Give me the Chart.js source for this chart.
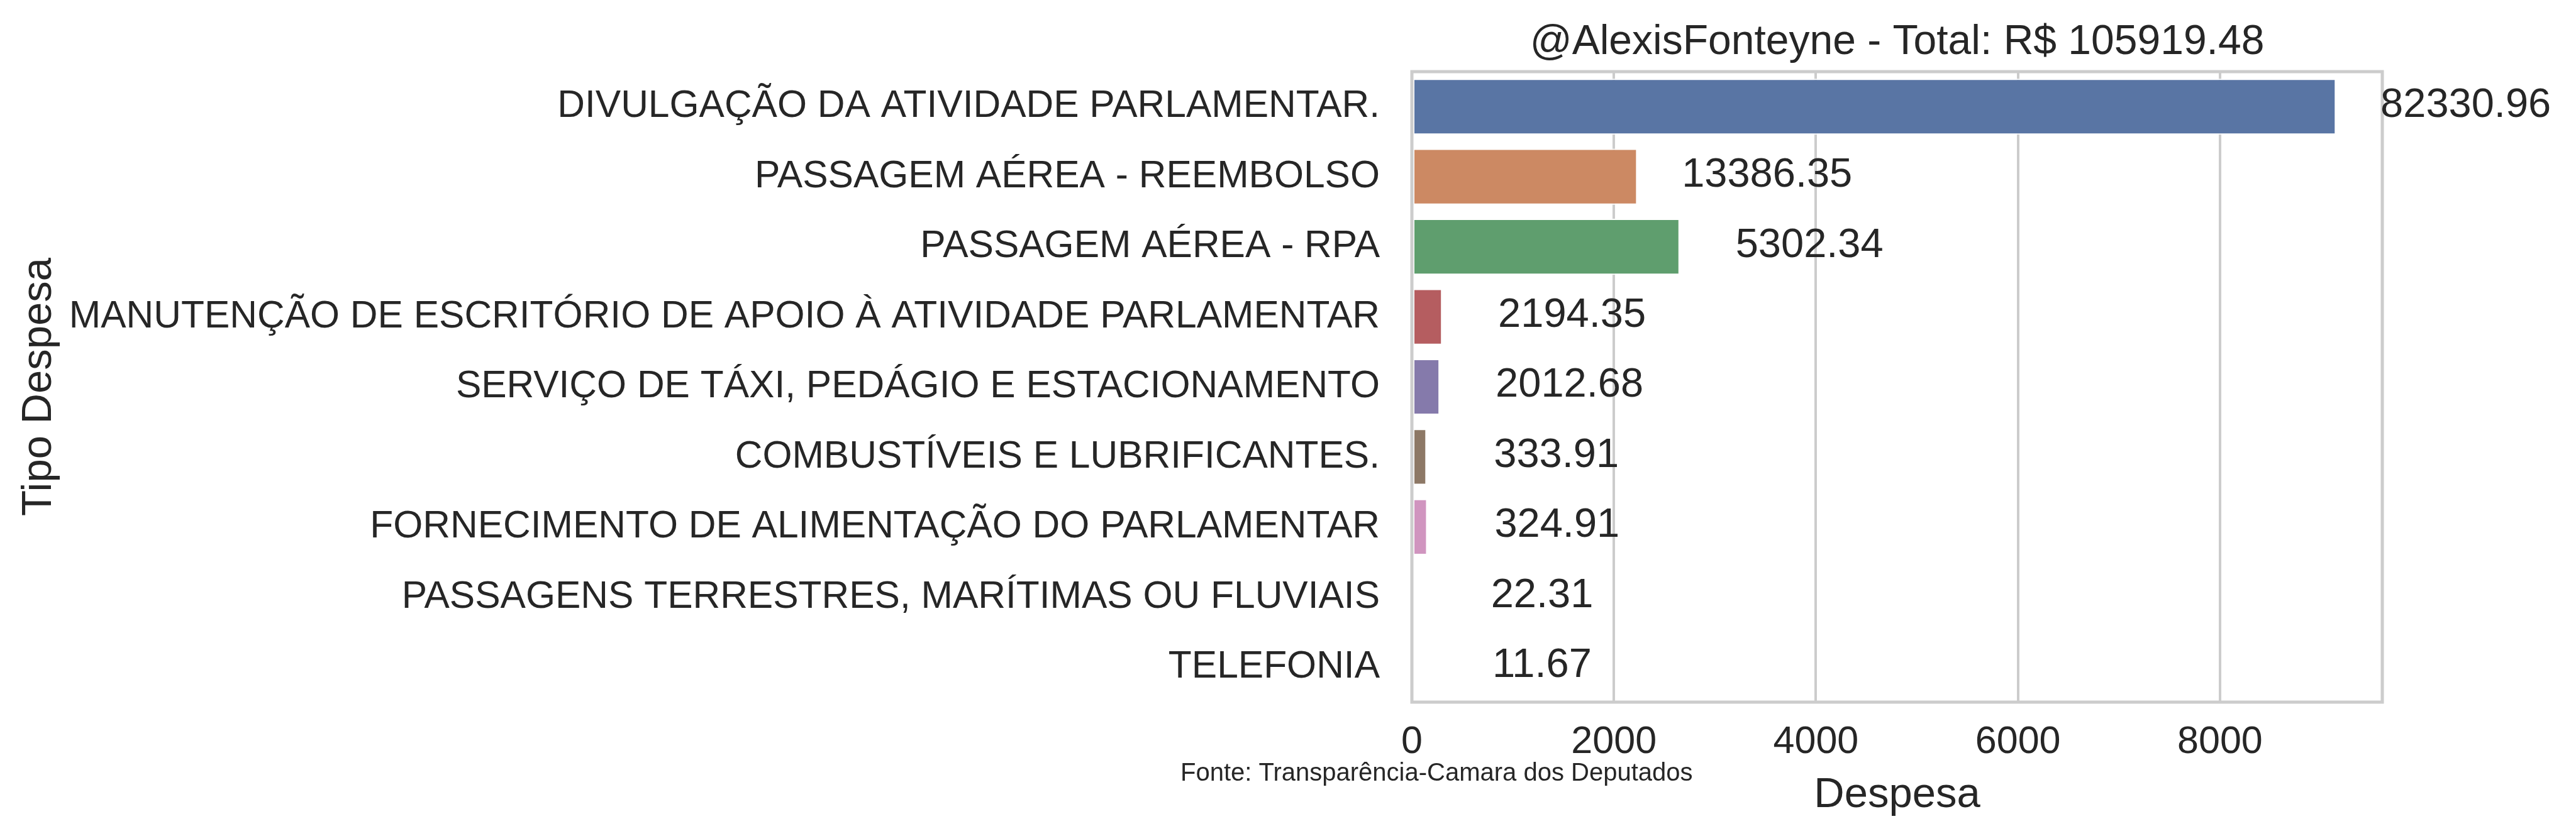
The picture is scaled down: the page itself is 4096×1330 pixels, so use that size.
<!DOCTYPE html>
<html>
<head>
<meta charset="utf-8">
<script src="https://cdn.jsdelivr.net/npm/chart.js@4.4.0/dist/chart.umd.min.js"></script>
<style>
  html, body { margin: 0; padding: 0; background: #ffffff; }
  #wrap { width: 4096px; height: 1330px; }
</style>
</head>
<body>
<div id="wrap"><canvas id="chart" width="4096" height="1330"></canvas></div>
<script>
// ── Data ───────────────────────────────────────────────
const CATEGORIES = [
  'DIVULGAÇÃO DA ATIVIDADE PARLAMENTAR.',
  'PASSAGEM AÉREA - REEMBOLSO',
  'PASSAGEM AÉREA - RPA',
  'MANUTENÇÃO DE ESCRITÓRIO DE APOIO À ATIVIDADE PARLAMENTAR',
  'SERVIÇO DE TÁXI, PEDÁGIO E ESTACIONAMENTO',
  'COMBUSTÍVEIS E LUBRIFICANTES.',
  'FORNECIMENTO DE ALIMENTAÇÃO DO PARLAMENTAR',
  'PASSAGENS TERRESTRES, MARÍTIMAS OU FLUVIAIS',
  'TELEFONIA'
];
// bar lengths (mean per expense) and the totals printed next to them
const BAR_VALUES = [9148, 2231, 2651, 300, 275, 145, 152, 4, 3];
const TOTALS     = [82330.96, 13386.35, 5302.34, 2194.35, 2012.68, 333.91, 324.91, 22.31, 11.67];
const X_TICKS    = [0, 2000, 4000, 6000, 8000];
const X_MAX      = 9607;

const TITLE   = '@AlexisFonteyne - Total: R$ 105919.48';
const X_LABEL = 'Despesa';
const Y_LABEL = 'Tipo Despesa';
const SOURCE  = 'Fonte: Transparência-Camara dos Deputados';

// ── Style ──────────────────────────────────────────────
const BAR_COLORS = ['#5975a4', '#cc8963', '#5f9e6e', '#b55d60', '#857aab',
                    '#8d7866', '#d095bf', '#8c8c8c', '#c1b37f'];
const TEXT   = '#262626';
const GRID   = '#cccccc';
const FONT   = '"Liberation Sans", Arial, sans-serif';
const LABEL_SHIFT = 1285;   // value labels are centred this far (in data units) past the bar end

const decorations = {
  id: 'decorations',
  afterDatasetsDraw(chart) {
    const { ctx, chartArea: a, scales: { x, y } } = chart;
    ctx.save();
    // frame (spines)
    ctx.strokeStyle = GRID;
    ctx.lineWidth = 5;
    ctx.strokeRect(a.left, a.top, a.right - a.left, a.bottom - a.top);

    // totals beside each bar
    ctx.fillStyle = TEXT;
    ctx.font = '65px ' + FONT;
    ctx.textAlign = 'center';
    ctx.textBaseline = 'middle';
    TOTALS.forEach((t, i) => {
      ctx.fillText(t.toFixed(2), x.getPixelForValue(BAR_VALUES[i] + LABEL_SHIFT), y.getPixelForValue(i) - 2);
    });
    ctx.restore();
  },
  afterDraw(chart) {
    const { ctx, chartArea: a } = chart;
    const cx = (a.left + a.right) / 2;
    ctx.save();
    ctx.fillStyle = TEXT;
    ctx.textBaseline = 'alphabetic';

    ctx.textAlign = 'center';
    ctx.font = '66px ' + FONT;
    ctx.fillText(TITLE, cx, 86);

    ctx.font = '67px ' + FONT;
    ctx.fillText(X_LABEL, cx, 1284);

    ctx.save();
    ctx.translate(81, (a.top + a.bottom) / 2);
    ctx.rotate(-Math.PI / 2);
    ctx.fillText(Y_LABEL, 0, 0);
    ctx.restore();

    ctx.textAlign = 'left';
    ctx.font = '40px ' + FONT;
    ctx.fillText(SOURCE, 1877, 1242);
    ctx.restore();
  }
};

const ctx = document.getElementById('chart').getContext('2d');
new Chart(ctx, {
  type: 'bar',
  data: {
    labels: CATEGORIES,
    datasets: [{
      data:               BAR_VALUES,
      backgroundColor:    BAR_COLORS,
      borderColor:        '#ffffff',
      borderWidth:        2,
      borderSkipped:      false,
      barPercentage:      0.8,
      categoryPercentage: 1.0
    }]
  },
  options: {
    indexAxis:           'y',
    responsive:          false,
    animation:           false,
    devicePixelRatio:    1,
    layout: { padding: { top: 114, right: 308, left: 0, bottom: 0 } },
    plugins: {
      legend:  { display: false },
      tooltip: { enabled: false }
    },
    scales: {
      x: {
        min: 0,
        max: X_MAX,
        afterBuildTicks: s => { s.ticks = X_TICKS.map(v => ({ value: v })); },
        afterFit: s => { s.height = 213; },
        grid:   { color: GRID, lineWidth: 4, drawTicks: false },
        border: { display: false },
        ticks:  { font: { family: FONT, size: 61 }, color: TEXT, padding: 28, maxRotation: 0,
                  callback: v => String(v) }
      },
      y: {
        afterFit: s => { s.width = 2245; },
        grid:   { display: false, drawTicks: false },
        border: { display: false },
        ticks:  { font: { family: FONT, size: 60.5 }, color: TEXT, padding: 51, autoSkip: false }
      }
    }
  },
  plugins: [decorations]
});
</script>
</body>
</html>
